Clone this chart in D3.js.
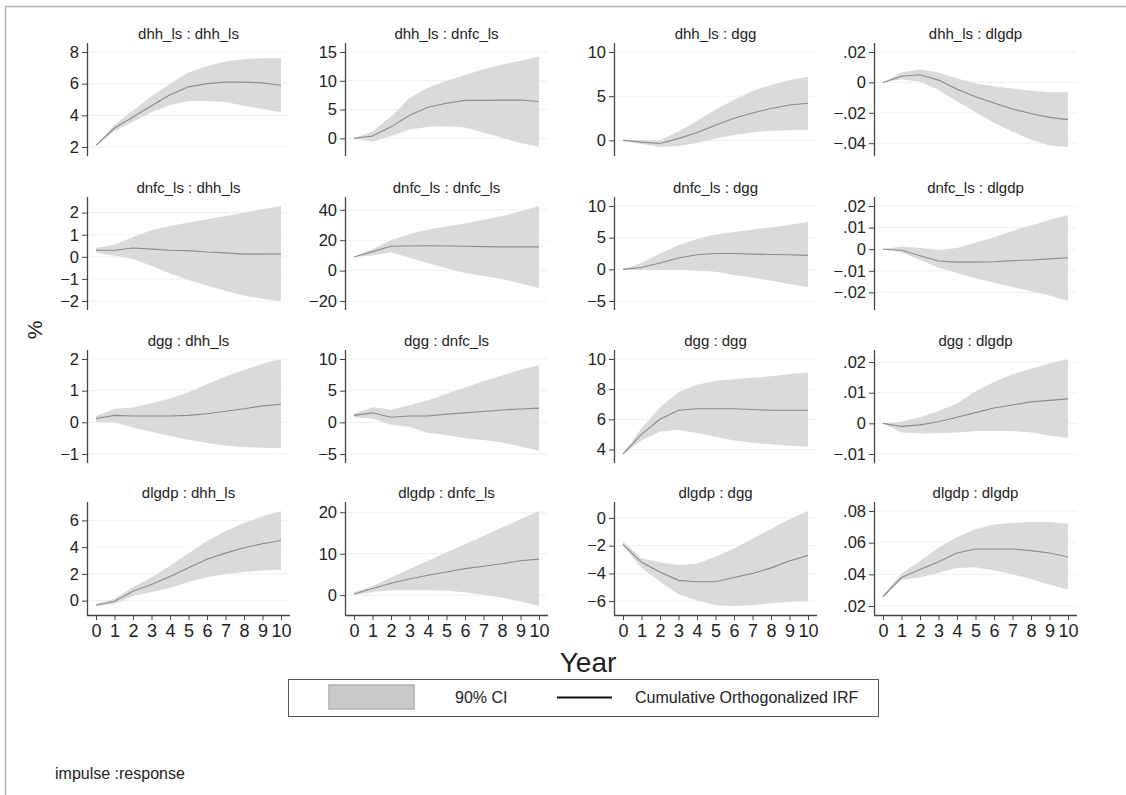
<!DOCTYPE html>
<html>
<head>
<meta charset="utf-8">
<script src="https://cdn.jsdelivr.net/npm/d3@7"></script>
<style>
  body { margin: 0; background: #fff; }
  text { font-family: "Liberation Sans", Arial, Helvetica, sans-serif; fill: #222; }
</style>
</head>
<body>
<svg id="chart" width="1126" height="795"></svg>
<script>
var years = [0, 1, 2, 3, 4, 5, 6, 7, 8, 9, 10];
var impulses = ["dhh_ls", "dnfc_ls", "dgg", "dlgdp"];
var responses = ["dhh_ls", "dnfc_ls", "dgg", "dlgdp"];

// one entry per panel, row = impulse, column = response
var yTicks = [
  [2, 4, 6, 8], [0, 5, 10, 15], [0, 5, 10], [-0.04, -0.02, 0, 0.02],
  [-2, -1, 0, 1, 2], [-20, 0, 20, 40], [-5, 0, 5, 10], [-0.02, -0.01, 0, 0.01, 0.02],
  [-1, 0, 1, 2], [-5, 0, 5, 10], [4, 6, 8, 10], [-0.01, 0, 0.01, 0.02],
  [0, 2, 4, 6], [0, 10, 20], [-6, -4, -2, 0], [0.02, 0.04, 0.06, 0.08]
];

var irf = [
  [2.1, 3.2, 3.9, 4.6, 5.3, 5.8, 6.0, 6.1, 6.1, 6.05, 5.9],
  [0, 0.4, 2.0, 4.0, 5.4, 6.1, 6.6, 6.6, 6.65, 6.65, 6.4],
  [0, -0.2, -0.35, 0.2, 0.9, 1.7, 2.5, 3.1, 3.6, 4.0, 4.2],
  [0, 0.004, 0.005, 0.0015, -0.0045, -0.0095, -0.0135, -0.0175, -0.0205, -0.023, -0.0245],
  [0.3, 0.3, 0.4, 0.35, 0.3, 0.28, 0.22, 0.18, 0.12, 0.12, 0.13],
  [9, 12.5, 16, 16.2, 16.3, 16.2, 16.0, 15.8, 15.6, 15.6, 15.6],
  [0, 0.3, 1.0, 1.8, 2.3, 2.5, 2.5, 2.4, 2.35, 2.3, 2.2],
  [0, -0.0005, -0.003, -0.0055, -0.006, -0.006, -0.0058, -0.0053, -0.005, -0.0045, -0.004],
  [0.12, 0.22, 0.2, 0.2, 0.2, 0.22, 0.27, 0.35, 0.43, 0.52, 0.57],
  [1.1, 1.5, 0.8, 1.0, 1.0, 1.3, 1.5, 1.7, 1.95, 2.1, 2.25],
  [3.7, 5.0, 6.0, 6.6, 6.7, 6.7, 6.7, 6.65, 6.6, 6.6, 6.6],
  [0, -0.001, -0.0005, 0.0005, 0.002, 0.0035, 0.005, 0.006, 0.007, 0.0075, 0.008],
  [-0.35, -0.05, 0.7, 1.2, 1.8, 2.45, 3.1, 3.55, 3.95, 4.25, 4.5],
  [0.3, 1.6, 2.9, 3.9, 4.8, 5.6, 6.4, 7.0, 7.6, 8.3, 8.7],
  [-1.9, -3.2, -3.9, -4.5, -4.6, -4.6, -4.3, -4.0, -3.6, -3.1, -2.7],
  [0.026, 0.038, 0.043, 0.048, 0.0535, 0.056, 0.056, 0.056, 0.055, 0.0535, 0.051]
];

var ciLow = [
  [2.1, 3.0, 3.6, 4.2, 4.65, 4.9, 4.9, 4.85, 4.6, 4.4, 4.2],
  [0, -0.6, 0.4, 1.5, 2.0, 2.1, 1.9, 1.0, 0.1, -0.8, -1.5],
  [0, -0.4, -0.75, -0.65, -0.3, 0.2, 0.6, 0.9, 1.1, 1.15, 1.2],
  [0, 0.002, 0.0005, -0.005, -0.0125, -0.0195, -0.0265, -0.0325, -0.0375, -0.0415, -0.0425],
  [0.2, 0.05, -0.1, -0.4, -0.75, -1.05, -1.3, -1.55, -1.75, -1.9, -2.0],
  [9, 10, 12, 8.5, 5, 1.5, -1.5, -3.5, -5.5, -8.5, -11.5],
  [0, -0.1, -0.1, -0.1, -0.2, -0.4, -0.9, -1.3, -1.8, -2.3, -2.8],
  [0, -0.0015, -0.005, -0.0085, -0.011, -0.0135, -0.0155, -0.0175, -0.0195, -0.0215, -0.024],
  [0.0, 0.0, -0.17, -0.3, -0.43, -0.55, -0.65, -0.73, -0.78, -0.8, -0.82],
  [0.8, 0.6, -0.4, -0.7, -1.7, -2.0, -2.5, -2.8, -3.2, -3.8, -4.5],
  [3.7, 4.6, 5.2, 5.3, 5.1, 4.85, 4.6, 4.45, 4.35, 4.25, 4.2],
  [0, -0.003, -0.0033, -0.0032, -0.003, -0.0025, -0.0025, -0.0025, -0.003, -0.004, -0.0048],
  [-0.4, -0.25, 0.35, 0.65, 0.95, 1.4, 1.75, 2.0, 2.15, 2.25, 2.3],
  [0.0, 0.8, 1.2, 1.2, 1.2, 1.1, 0.7, 0.1, -0.6, -1.5, -2.6],
  [-2.0, -3.6, -4.6, -5.5, -5.95, -6.3, -6.35, -6.3, -6.15, -6.05, -6.0],
  [0.0255, 0.0365, 0.038, 0.041, 0.044, 0.0445, 0.0425, 0.04, 0.037, 0.0335, 0.0305]
];

var ciHigh = [
  [2.1, 3.4, 4.3, 5.2, 6.0, 6.7, 7.1, 7.4, 7.55, 7.6, 7.6],
  [0, 1.2, 3.8, 7.0, 8.8, 10.0, 11.0, 12.0, 12.8, 13.5, 14.2],
  [0, 0, 0, 1.0, 2.2, 3.5, 4.6, 5.6, 6.3, 6.8, 7.2],
  [0, 0.0065, 0.0085, 0.0065, 0.0025, -0.0005, -0.0025, -0.004, -0.0055, -0.0065, -0.0065],
  [0.4, 0.55, 0.9, 1.2, 1.4, 1.55, 1.7, 1.85, 2.0, 2.15, 2.3],
  [9, 14, 20, 24, 27, 29, 31, 33.5, 36, 39, 42.5],
  [0, 1.0, 2.5, 3.8, 4.8, 5.5, 5.9, 6.3, 6.6, 7.0, 7.5],
  [0, 0.0012, 0.0005, -0.0005, 0.0005, 0.003, 0.0055, 0.0085, 0.011, 0.0135, 0.0158],
  [0.2, 0.42, 0.47, 0.6, 0.75, 0.95, 1.2, 1.45, 1.65, 1.85, 2.0],
  [1.4, 2.4, 2.0, 2.7, 3.5, 4.5, 5.5, 6.5, 7.4, 8.3, 9.0],
  [3.7, 5.4, 6.8, 7.8, 8.3, 8.55, 8.65, 8.75, 8.85, 9.0, 9.1],
  [0, 0.0005, 0.002, 0.004, 0.0065, 0.0105, 0.0135, 0.016, 0.0178, 0.0195, 0.021],
  [-0.25, 0.15, 1.0, 1.75, 2.6, 3.55, 4.45, 5.2, 5.8, 6.3, 6.7],
  [0.7, 2.2, 4.3, 6.3, 8.3, 10.3, 12.3, 14.3, 16.3, 18.3, 20.3],
  [-1.7, -2.9, -3.2, -3.4, -3.3, -2.8, -2.2, -1.5, -0.8, -0.1, 0.5],
  [0.0265, 0.0405, 0.0485, 0.057, 0.0635, 0.0685, 0.0715, 0.0725, 0.073, 0.073, 0.072]
];

var svg = d3.select("#chart");

// layout
var colLeft = [87, 345, 614, 874];
var rowTop = [43, 197, 350, 502];
var plotW = 203, plotH = 113, pad = 9;

// Stata style number labels: .02, -.04
function fmt(v) {
  if (v === 0) return "0";
  var s = String(+v.toFixed(4));
  s = s.replace("0.", ".");
  return s.replace("-", "\u2212");
}

// outer frame
svg.append("rect")
    .attr("x", 5.5).attr("y", 6.5)
    .attr("width", 1200).attr("height", 1000)
    .attr("fill", "none")
    .attr("stroke", "#b4b4b4")
    .attr("stroke-width", 1.5);

function drawPanel(r, c) {
  var k = r * 4 + c;
  var px = colLeft[c], py = rowTop[r];
  var g = svg.append("g").attr("transform", "translate(" + px + "," + py + ")");

  var ticks = yTicks[k];
  var lo = Math.min(d3.min(ticks), d3.min(ciLow[k]), d3.min(irf[k]));
  var hi = Math.max(d3.max(ticks), d3.max(ciHigh[k]), d3.max(irf[k]));

  var x = d3.scaleLinear().domain([0, 10]).range([pad, plotW - pad]);
  var y = d3.scaleLinear().domain([lo, hi]).range([plotH - pad, pad]);

  // grid
  g.append("g").selectAll("line")
      .data(ticks)
      .enter().append("line")
      .attr("x1", 0).attr("x2", plotW)
      .attr("y1", function (d) { return y(d); })
      .attr("y2", function (d) { return y(d); })
      .attr("stroke", "#eef0f1")
      .attr("stroke-width", 1);

  // CI band
  var band = d3.area()
      .x(function (d) { return x(d); })
      .y0(function (d, i) { return y(ciLow[k][i]); })
      .y1(function (d, i) { return y(ciHigh[k][i]); });
  g.append("path")
      .datum(years)
      .attr("d", band)
      .attr("fill", "#d9dadc");

  // IRF line
  var line = d3.line()
      .x(function (d, i) { return x(years[i]); })
      .y(function (d) { return y(d); });
  g.append("path")
      .datum(irf[k])
      .attr("d", line)
      .attr("fill", "none")
      .attr("stroke", "#8a8a8a")
      .attr("stroke-width", 1.1);

  // y axis
  var yAxis = g.append("g")
      .call(d3.axisLeft(y).tickValues(ticks).tickFormat(fmt).tickSize(5).tickPadding(3).tickSizeOuter(0));
  yAxis.select(".domain").attr("d", "M0.5,0V" + plotH).attr("stroke", "#444").attr("stroke-width", 1.3);
  yAxis.selectAll(".tick line").attr("stroke", "#444");
  yAxis.selectAll(".tick text")
      .style("font-size", "16.5px")
      .attr("fill", "#222");

  // x axis on bottom row only
  if (r === 3) {
    var xAxis = g.append("g")
        .attr("transform", "translate(0," + plotH + ")")
        .call(d3.axisBottom(x).tickValues(years).tickFormat(d3.format("d")).tickSize(5).tickPadding(4).tickSizeOuter(0));
    xAxis.select(".domain").attr("d", "M0,0.5H" + plotW).attr("stroke", "#444").attr("stroke-width", 1.3);
    xAxis.selectAll(".tick line").attr("stroke", "#444");
    xAxis.selectAll(".tick text")
        .style("font-size", "18px")
        .attr("fill", "#222");
  }

  // panel title
  g.append("text")
      .attr("x", plotW / 2)
      .attr("y", -4)
      .attr("text-anchor", "middle")
      .style("font-size", "15px")
      .attr("fill", "#333")
      .text(impulses[r] + " : " + responses[c]);
}

for (var r = 0; r < 4; r++) {
  for (var c = 0; c < 4; c++) {
    drawPanel(r, c);
  }
}

// axis titles
svg.append("text")
    .attr("transform", "translate(42,330) rotate(-90)")
    .attr("text-anchor", "middle")
    .style("font-size", "21px")
    .text("%");

svg.append("text")
    .attr("x", 588).attr("y", 672)
    .attr("text-anchor", "middle")
    .style("font-size", "28px")
    .text("Year");

// legend
var leg = svg.append("g").attr("transform", "translate(288,679)");
leg.append("rect")
    .attr("x", 0.5).attr("y", 0.5)
    .attr("width", 590).attr("height", 37)
    .attr("fill", "#fff")
    .attr("stroke", "#555")
    .attr("stroke-width", 1);
leg.append("rect")
    .attr("x", 41).attr("y", 6)
    .attr("width", 85).attr("height", 24)
    .attr("fill", "#c8c9cb")
    .attr("stroke", "#b0b0b2")
    .attr("stroke-width", 1.5);
leg.append("text")
    .attr("x", 167).attr("y", 24)
    .style("font-size", "16px")
    .text("90% CI");
leg.append("line")
    .attr("x1", 269).attr("x2", 324)
    .attr("y1", 18.5).attr("y2", 18.5)
    .attr("stroke", "#111")
    .attr("stroke-width", 2.2);
leg.append("text")
    .attr("x", 347).attr("y", 24)
    .style("font-size", "16px")
    .text("Cumulative Orthogonalized IRF");

// note
svg.append("text")
    .attr("x", 55).attr("y", 779)
    .style("font-size", "16px")
    .attr("fill", "#333")
    .text("impulse :response");
</script>
</body>
</html>
